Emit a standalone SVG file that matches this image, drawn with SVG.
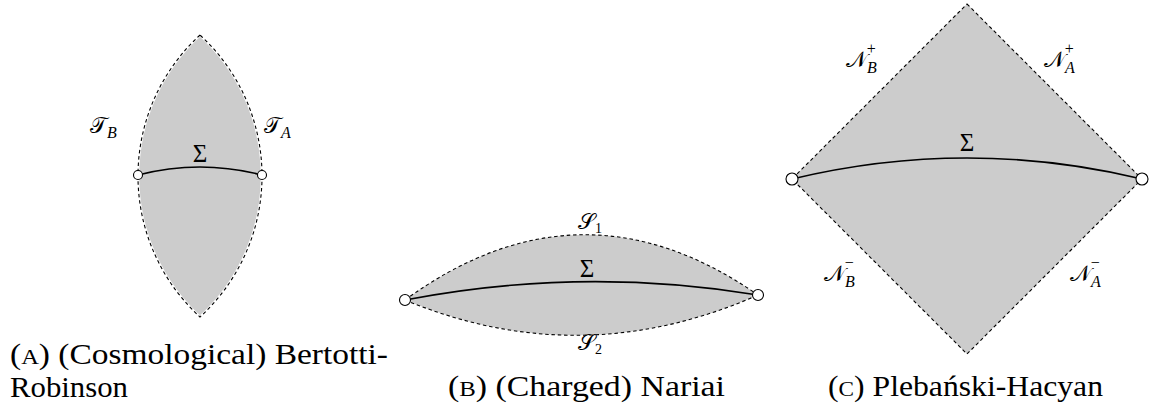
<svg xmlns="http://www.w3.org/2000/svg" width="1151" height="408" viewBox="0 0 1151 408">
<style>
.region{fill:#cccccc;stroke:none}
.dash{fill:none;stroke:#000;stroke-width:1.1;stroke-dasharray:3.5,2.8}
.halo{fill:none;stroke:#fff;stroke-width:2.5}
.sigma{fill:none;stroke:#000;stroke-width:1.6}
.pt{fill:#fff;stroke:#000;stroke-width:1.1}
.lab{font-size:25px;fill:#000}
.cal{font-size:22px;fill:#000}
.sub{font-style:italic;font-size:16px}
.sup{font-size:16px}
.cap{font-size:30px;fill:#000}
</style>
<g id="fig-a">
  <path class="region" d="M200,35 A191.3,191.3 0 0 0 200,317 A191.3,191.3 0 0 0 200,35 Z"/>
  <path class="halo" d="M200,35 A191.3,191.3 0 0 0 200,317 A191.3,191.3 0 0 0 200,35 Z"/>
  <path class="dash" d="M200,35 A191.3,191.3 0 0 0 200,317 A191.3,191.3 0 0 0 200,35 Z"/>
  <g id="a-sigma"><path class="sigma" d="M138,175 Q200,159 262,175"/><text class="lab" font-family="'Liberation Serif', serif" x="200" y="162" text-anchor="middle">Σ</text></g>
  <circle id="a-pt-left" class="pt" cx="138" cy="175" r="4.5"/>
  <circle id="a-pt-right" class="pt" cx="262" cy="175" r="4.5"/>
  <text id="a-TB" class="cal" font-family="'DejaVu Serif', 'DejaVu Sans', serif" x="90" y="133">𝒯<tspan class="sub" font-family="'Liberation Serif', serif" dy="5">B</tspan></text>
  <text id="a-TA" class="cal" font-family="'DejaVu Serif', 'DejaVu Sans', serif" x="264" y="133">𝒯<tspan class="sub" font-family="'Liberation Serif', serif" dy="5">A</tspan></text>
</g>
<g id="fig-b">
  <path class="region" d="M405,300 Q581,172 758,295 Q581,373 405,300 Z"/>
  <path class="dash" d="M405,300 Q581,172 758,295"/>
  <path class="dash" d="M405,300 Q581,373 758,295"/>
  <g id="b-sigma"><path class="sigma" d="M405,300 Q581,266 758,295"/><text class="lab" font-family="'Liberation Serif', serif" x="587" y="277" text-anchor="middle">Σ</text></g>
  <circle id="b-pt-left" class="pt" cx="405" cy="300" r="5.5"/>
  <circle id="b-pt-right" class="pt" cx="758" cy="295" r="5.5"/>
  <text id="b-S1" class="cal" font-family="'DejaVu Serif', 'DejaVu Sans', serif" x="578" y="229" font-size="19">𝒮<tspan font-family="'Liberation Serif', serif" dy="4" font-size="14">1</tspan></text>
  <text id="b-S2" class="cal" font-family="'DejaVu Serif', 'DejaVu Sans', serif" x="578" y="350" font-size="19">𝒮<tspan font-family="'Liberation Serif', serif" dy="4" font-size="14">2</tspan></text>
</g>
<g id="fig-c">
  <polygon class="region" points="967,4 1142,179 967,354 792,179"/>
  <polygon class="dash" points="967,4 1142,179 967,354 792,179"/>
  <g id="c-sigma"><path class="sigma" d="M792,179 Q967,137 1142,179"/><text class="lab" font-family="'Liberation Serif', serif" x="967" y="151" text-anchor="middle">Σ</text></g>
  <circle id="c-pt-left" class="pt" cx="792" cy="179" r="6"/>
  <circle id="c-pt-right" class="pt" cx="1142" cy="179" r="6"/>
  <text id="c-NBp" class="cal" font-family="'DejaVu Serif', 'DejaVu Sans', serif" x="846" y="67">𝒩<tspan class="sub" font-family="'Liberation Serif', serif" dy="6">B</tspan><tspan class="sup" font-family="'Liberation Serif', serif" dx="-10" dy="-19">+</tspan></text>
  <text id="c-NAp" class="cal" font-family="'DejaVu Serif', 'DejaVu Sans', serif" x="1044" y="67">𝒩<tspan class="sub" font-family="'Liberation Serif', serif" dy="6">A</tspan><tspan class="sup" font-family="'Liberation Serif', serif" dx="-10" dy="-19">+</tspan></text>
  <text id="c-NBm" class="cal" font-family="'DejaVu Serif', 'DejaVu Sans', serif" x="824" y="281">𝒩<tspan class="sub" font-family="'Liberation Serif', serif" dy="6">B</tspan><tspan class="sup" font-family="'Liberation Serif', serif" dx="-10" dy="-19">−</tspan></text>
  <text id="c-NAm" class="cal" font-family="'DejaVu Serif', 'DejaVu Sans', serif" x="1070" y="281">𝒩<tspan class="sub" font-family="'Liberation Serif', serif" dy="6">A</tspan><tspan class="sup" font-family="'Liberation Serif', serif" dx="-10" dy="-19">−</tspan></text>
</g>
<g id="captions" font-family="'Liberation Serif', 'Times New Roman', serif">
  <text class="cap" x="10" y="364" textLength="378" lengthAdjust="spacingAndGlyphs">(<tspan font-size="22">A</tspan>) (Cosmological) Bertotti-</text>
  <text class="cap" x="10" y="397" textLength="118" lengthAdjust="spacingAndGlyphs">Robinson</text>
  <text class="cap" x="448" y="396" textLength="277" lengthAdjust="spacingAndGlyphs">(<tspan font-size="22">B</tspan>) (Charged) Nariai</text>
  <text class="cap" x="828" y="396" textLength="275" lengthAdjust="spacingAndGlyphs">(<tspan font-size="22">C</tspan>) Plebański-Hacyan</text>
</g>
</svg>
